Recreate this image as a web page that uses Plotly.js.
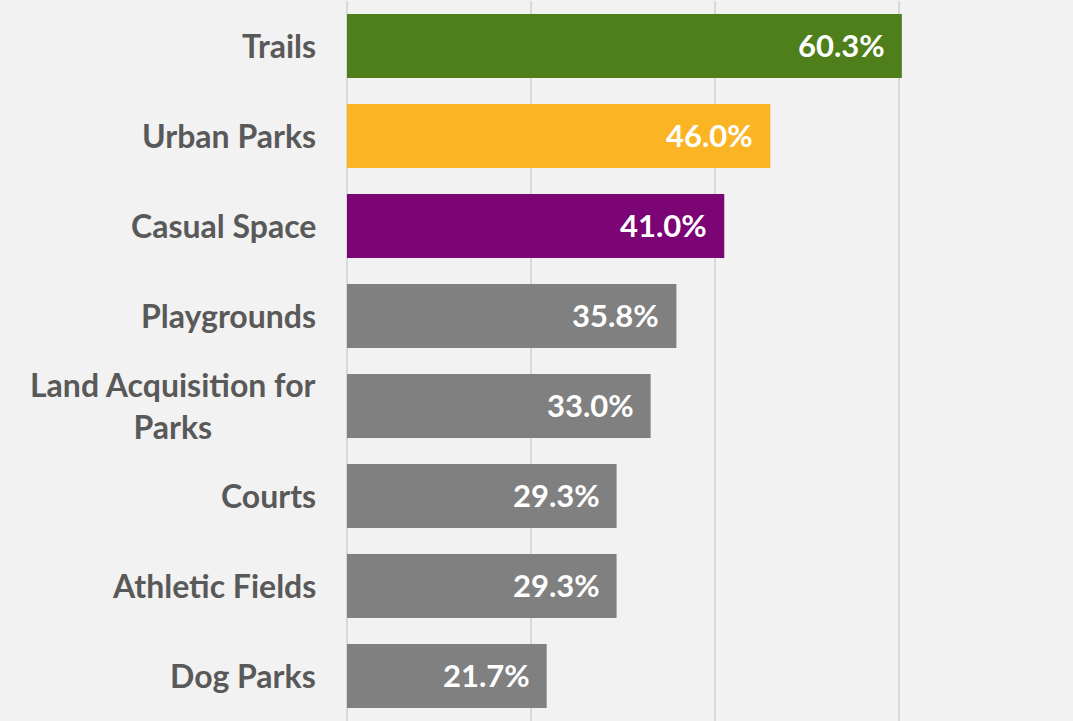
<!DOCTYPE html>
<html>
<head>
<meta charset="utf-8">
<script src="https://cdn.plot.ly/plotly-3.0.1.min.js"></script>
<style>html,body{margin:0;padding:0;background:#f2f2f2;}#chart{width:1073px;height:721px;}</style>
</head>
<body>
<div id="chart"></div>
<script>
const categories = ["Trails", "Urban Parks", "Casual Space", "Playgrounds", "Land Acquisition for<br>Parks", "Courts", "Athletic Fields", "Dog Parks"];
const values = [60.3, 46.0, 41.0, 35.8, 33.0, 29.3, 29.3, 21.7];
const barColors = ["#4e7f1a", "#fbb424", "#7b0574", "#808080", "#808080", "#808080", "#808080", "#808080"];

const FONT = "Lato, 'Open Sans', sans-serif";

const trace = {
  type: "bar",
  orientation: "h",
  x: values,
  y: categories,
  marker: {color: barColors, line: {width: 0}},
  hoverinfo: "none"
};

const annotations = [];
categories.forEach((c, i) => {
  annotations.push({
    xref: "paper", yref: "y", x: 0, y: c,
    xanchor: "right", yanchor: "middle", align: "center",
    xshift: -29, yshift: 1,
    text: "<b>" + c + "</b>", showarrow: false,
    font: {family: FONT, size: 32, color: "#595959"}
  });
  annotations.push({
    xref: "x", yref: "y", x: values[i], y: c,
    xanchor: "right", yanchor: "middle",
    xshift: -15, yshift: 1,
    text: "<b>" + values[i].toFixed(1) + "%</b>", showarrow: false,
    font: {family: FONT, size: 31, color: "#ffffff"}
  });
});

const layout = {
  width: 1073, height: 721,
  margin: {l: 347, r: 0, t: 1, b: 0, pad: 0},
  paper_bgcolor: "#f2f2f2",
  plot_bgcolor: "#f2f2f2",
  bargap: 0.289,
  showlegend: false,
  xaxis: {
    range: [0, 78.9],
    tickvals: [0, 20, 40, 60],
    showticklabels: false,
    showgrid: true, gridcolor: "#d9d9d9", gridwidth: 2,
    zeroline: true, zerolinecolor: "#d9d9d9", zerolinewidth: 2,
    showline: false, fixedrange: true
  },
  yaxis: {
    type: "category",
    autorange: "reversed",
    showticklabels: false,
    showgrid: false, zeroline: false, showline: false, ticks: ""
  },
  annotations: annotations
};

Plotly.newPlot("chart", [trace], layout, {displayModeBar: false, staticPlot: true});
</script>
</body>
</html>
